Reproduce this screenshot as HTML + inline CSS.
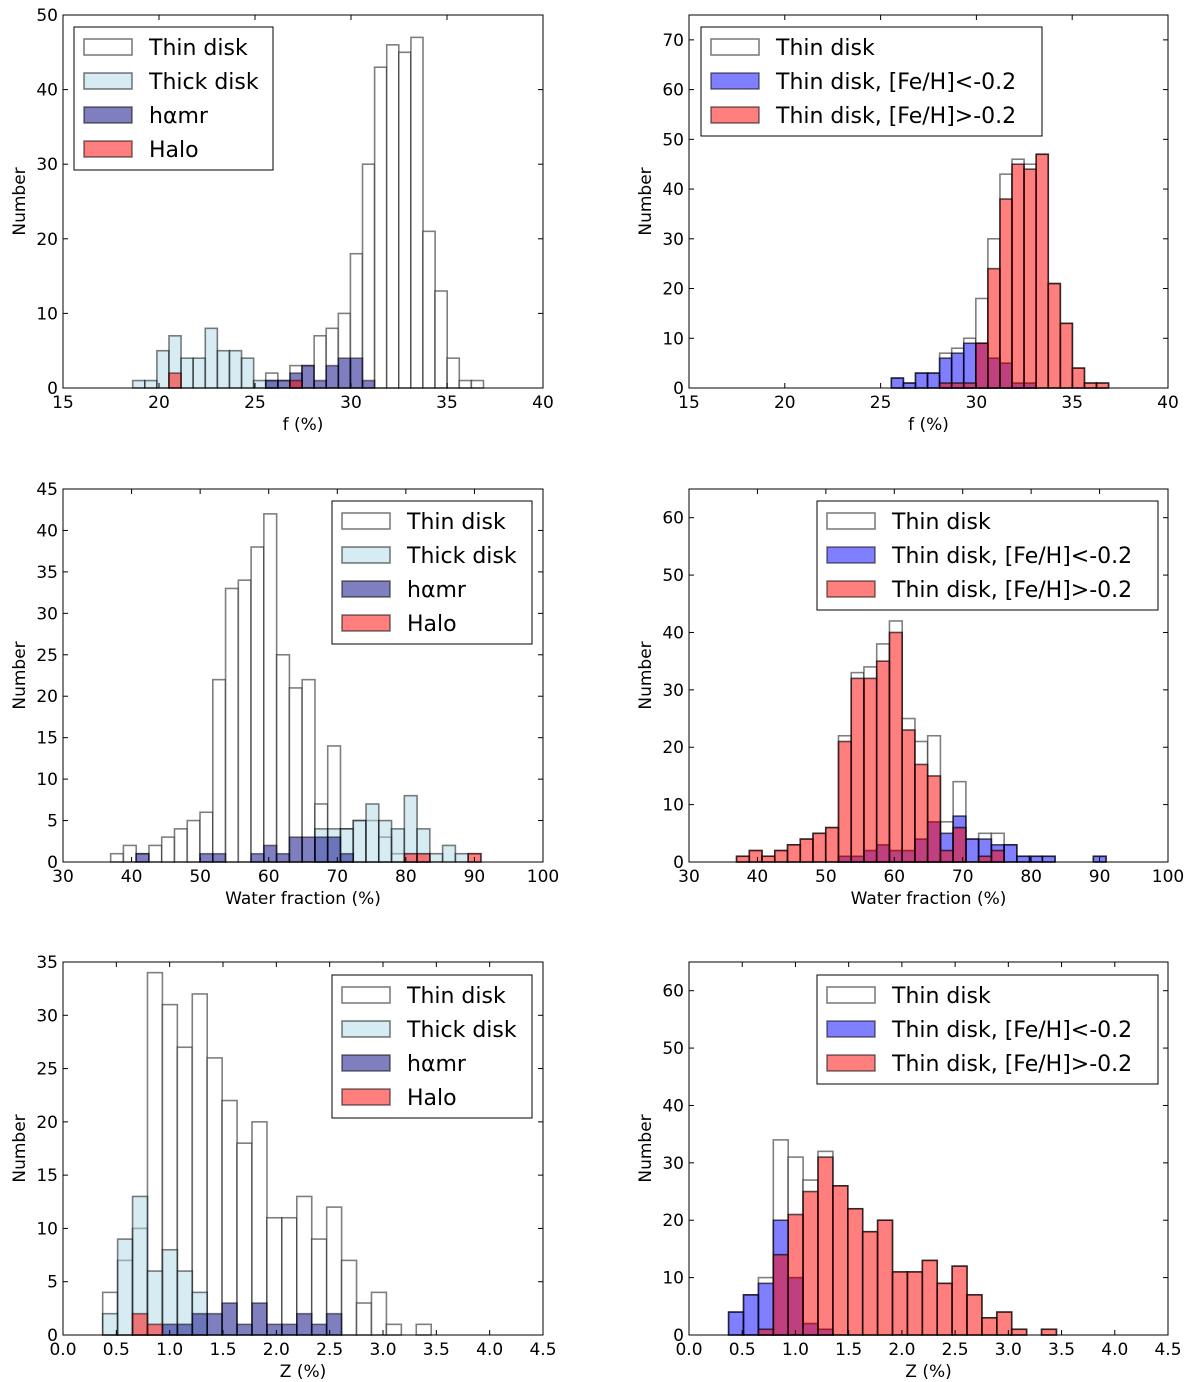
<!DOCTYPE html>
<html><head><meta charset="utf-8"><style>
html,body{margin:0;padding:0;background:#fff;}
svg{display:block;font-family:"DejaVu Sans","Liberation Sans",sans-serif;}
</style></head><body>
<svg id="fig" width="1200" height="1382" viewBox="0 0 1200 1382" xmlns="http://www.w3.org/2000/svg"></svg>
<script>
// ---- data ----
const fBinStart = 18.63, fBinWidth = 0.63;
const wBinStart = 36.95, wBinWidth = 1.862;
const zBinStart = 0.372, zBinWidth = 0.14;

const fThin  = [0,0,0,0,0,0,0,0,0,0,0,2,1,3,3,7,8,10,18,30,43,46,45,47,21,13,4,1,1];
const fThick = [1,1,5,7,4,4,8,5,5,4,1,1,0,0,0,0,0,0,0,0,0,0,0,0,0,0,0,0,0];
const fHamr  = [0,0,0,0,0,0,0,0,0,0,0,1,1,2,3,1,3,4,4,1,0,0,0,0,0,0,0,0,0];
const fHalo  = [0,0,0,2,0,0,0,0,0,0,0,0,0,1,0,0,0,0,0,0,0,0,0,0,0,0,0,0,0];
const fPoor  = [0,0,0,0,0,0,0,0,0,0,0,2,1,3,3,6,7,9,9,6,5,1,1,0,0,0,0,0,0];
const fRich  = [0,0,0,0,0,0,0,0,0,0,0,0,0,0,0,1,1,1,9,24,38,45,44,47,21,13,4,1,1];

const wThin  = [1,2,1,2,3,4,5,6,22,33,34,38,42,25,21,22,7,14,4,5,5,3,1,1,1,0,0,0,1];
const wThick = [0,0,0,0,0,0,0,0,0,0,0,0,0,0,0,0,4,4,4,5,7,5,4,8,4,1,2,1,0];
const wHamr  = [0,0,1,0,0,0,0,1,1,0,0,1,2,1,3,3,3,3,1,0,0,0,0,0,0,0,0,0,0];
const wHalo  = [0,0,0,0,0,0,0,0,0,0,0,0,0,0,0,0,0,0,0,0,0,0,0,1,1,0,0,0,1];
const wPoor  = [0,0,0,0,0,0,0,0,1,1,2,3,2,2,4,7,5,8,4,4,3,3,1,1,1,0,0,0,1];
const wRich  = [1,2,1,2,3,4,5,6,21,32,32,35,40,23,17,15,2,6,0,1,2,0,0,0,0,0,0,0,0];

const zThin  = [4,7,10,34,31,27,32,26,22,18,20,11,11,13,9,12,7,3,4,1,0,1,0,0,0,0,0,0,0];
const zThick = [2,9,13,6,8,6,4,0,0,0,0,0,0,0,0,0,0,0,0,0,0,0,0,0,0,0,0,0,0];
const zHamr  = [0,0,0,0,1,1,2,2,3,1,3,1,1,2,1,2,0,0,0,0,0,0,0,0,0,0,0,0,0];
const zHalo  = [0,0,2,1,0,0,0,0,0,0,0,0,0,0,0,0,0,0,0,0,0,0,0,0,0,0,0,0,0];
const zPoor  = [4,7,9,20,10,2,1,0,0,0,0,0,0,0,0,0,0,0,0,0,0,0,0,0,0,0,0,0,0];
const zRich  = [0,0,1,14,21,25,31,26,22,18,20,11,11,13,9,12,7,3,4,1,0,1,0,0,0,0,0,0,0];

const fTicks = [15,20,25,30,35,40];
const wTicks = [30,40,50,60,70,80,90,100];
const zTicks = ["0.0","0.5","1.0","1.5","2.0","2.5","3.0","3.5","4.0","4.5"];
const yTicks50 = [0,10,20,30,40,50];
const yTicks75 = [0,10,20,30,40,50,60,70];
const yTicks45 = [0,5,10,15,20,25,30,35,40,45];
const yTicks65 = [0,10,20,30,40,50,60];
const yTicks35 = [0,5,10,15,20,25,30,35];

const popLabels = ["Thin disk","Thick disk","h\u03B1mr","Halo"];
const metLabels = ["Thin disk","Thin disk, [Fe/H]<-0.2","Thin disk, [Fe/H]>-0.2"];

// ---- drawing ----
const NS = "http://www.w3.org/2000/svg";
const svg = document.getElementById("fig");
function mk(tag, attrs, parent){
  const e = document.createElementNS(NS, tag);
  for (const k in attrs) e.setAttribute(k, attrs[k]);
  (parent||svg).appendChild(e);
  return e;
}
const STY = {
  thin:{fill:"#ffffff",fo:1,stroke:"#000",so:0.5},
  thick:{fill:"#add8e6",fo:0.5,stroke:"#000",so:0.5},
  hamr:{fill:"#000080",fo:0.5,stroke:"#000",so:0.5},
  halo:{fill:"#ff0000",fo:0.5,stroke:"#000",so:0.5},
  poor:{fill:"#0000ff",fo:0.5,stroke:"#000",so:0.65},
  rich:{fill:"#ff0000",fo:0.5,stroke:"#000",so:0.65}
};

function panel(name, box, xdom, ydom, xticks, yticks, xlabel, start, width, series, legend){
  const g = mk("g", {});
  
  
  const sx = v => box.x0 + (v - xdom[0]) / (xdom[1]-xdom[0]) * (box.x1-box.x0);
  const sy = v => box.y1 - (v - ydom[0]) / (ydom[1]-ydom[0]) * (box.y1-box.y0);
  // bars
  series.forEach(s => {
    const sg = mk("g", {}, g);
    
    
    const st = STY[s.style];
    s.data.forEach((v,i) => {
      const xa = sx(start + i*width), xb = sx(start + (i+1)*width);
      const r = mk("rect", {x:xa, y:sy(v), width:xb-xa, height:sy(0)-sy(v),
        fill:st.fill, "fill-opacity":st.fo, stroke:st.stroke, "stroke-opacity":st.so, "stroke-width":1.6}, sg);
      
      
    });
  });
  // frame
  const fr = mk("rect", {x:box.x0, y:box.y0, width:box.x1-box.x0, height:box.y1-box.y0, fill:"none", stroke:"#000", "stroke-width":1}, g);
  
  
  // x ticks
  const xa = mk("g", {}, g);
  
  
  xticks.forEach(t => {
    const v = parseFloat(t), x = sx(v);
    mk("line", {x1:x, x2:x, y1:box.y1, y2:box.y1-5, stroke:"#000"}, xa);
    mk("line", {x1:x, x2:x, y1:box.y0, y2:box.y0+5, stroke:"#000"}, xa);
    const tx = mk("text", {x:x, y:box.y1+20, "text-anchor":"middle", "font-size":17}, xa);
    tx.textContent = t;
    
    
  });
  const xl = mk("text", {x:(box.x0+box.x1)/2, y:box.y1+42, "text-anchor":"middle", "font-size":17}, g);
  xl.textContent = xlabel;
  
  
  // y ticks
  const ya = mk("g", {}, g);
  
  
  yticks.forEach(t => {
    const y = sy(t);
    mk("line", {x1:box.x0, x2:box.x0+5, y1:y, y2:y, stroke:"#000"}, ya);
    mk("line", {x1:box.x1, x2:box.x1-5, y1:y, y2:y, stroke:"#000"}, ya);
    const tx = mk("text", {x:box.x0-5, y:y+6, "text-anchor":"end", "font-size":17}, ya);
    tx.textContent = t;
    
    
  });
  const yl = mk("text", {x:0, y:0, "text-anchor":"middle", "font-size":17,
    transform:"translate("+(box.x0-38)+","+((box.y0+box.y1)/2)+") rotate(-90)"}, g);
  yl.textContent = "Number";
  
  
  // legend
  const lg = mk("g", {}, g);
  
  
  mk("rect", {x:legend.x, y:legend.y, width:legend.w, height:legend.h, fill:"#fff", stroke:"#000", "stroke-width":1}, lg);
  legend.items.forEach((it,i) => {
    const cy = legend.y + 19 + i*34;
    const st = STY[it.style];
    const e = mk("g", {}, lg);
    
    
    mk("rect", {x:legend.x+10, y:cy-7, width:48, height:16, fill:st.fill, "fill-opacity":st.fo, stroke:"#000", "stroke-opacity":0.5, "stroke-width":1.6}, e);
    const tx = mk("text", {x:legend.x+75, y:cy+9, "font-size":22}, e);
    tx.textContent = it.label;
  });
}

const colL = {x0:63, x1:543}, colR = {x0:689, x1:1168};
const rows = [{y0:15,y1:388},{y0:489,y1:862},{y0:962,y1:1335}];
function B(c,r){return {x0:c.x0,x1:c.x1,y0:r.y0,y1:r.y1};}

panel("panel-f-populations", B(colL,rows[0]), [15,40], [0,50], fTicks, yTicks50, "f (%)", fBinStart, fBinWidth,
  [{name:"thin-disk",style:"thin",data:fThin},{name:"thick-disk",style:"thick",data:fThick},{name:"hamr",style:"hamr",data:fHamr},{name:"halo",style:"halo",data:fHalo}],
  {x:74,y:27,w:199,h:143,items:popLabels.map((l,i)=>({label:l,style:["thin","thick","hamr","halo"][i]}))});
panel("panel-f-metallicity", B(colR,rows[0]), [15,40], [0,75], fTicks, yTicks75, "f (%)", fBinStart, fBinWidth,
  [{name:"thin-disk",style:"thin",data:fThin},{name:"metal-poor",style:"poor",data:fPoor},{name:"metal-rich",style:"rich",data:fRich}],
  {x:701,y:27,w:341,h:109,items:metLabels.map((l,i)=>({label:l,style:["thin","poor","rich"][i]}))});
panel("panel-water-populations", B(colL,rows[1]), [30,100], [0,45], wTicks, yTicks45, "Water fraction (%)", wBinStart, wBinWidth,
  [{name:"thin-disk",style:"thin",data:wThin},{name:"thick-disk",style:"thick",data:wThick},{name:"hamr",style:"hamr",data:wHamr},{name:"halo",style:"halo",data:wHalo}],
  {x:332,y:501,w:200,h:143,items:popLabels.map((l,i)=>({label:l,style:["thin","thick","hamr","halo"][i]}))});
panel("panel-water-metallicity", B(colR,rows[1]), [30,100], [0,65], wTicks, yTicks65, "Water fraction (%)", wBinStart, wBinWidth,
  [{name:"thin-disk",style:"thin",data:wThin},{name:"metal-poor",style:"poor",data:wPoor},{name:"metal-rich",style:"rich",data:wRich}],
  {x:817,y:501,w:341,h:109,items:metLabels.map((l,i)=>({label:l,style:["thin","poor","rich"][i]}))});
panel("panel-z-populations", B(colL,rows[2]), [0,4.5], [0,35], zTicks, yTicks35, "Z (%)", zBinStart, zBinWidth,
  [{name:"thin-disk",style:"thin",data:zThin},{name:"thick-disk",style:"thick",data:zThick},{name:"hamr",style:"hamr",data:zHamr},{name:"halo",style:"halo",data:zHalo}],
  {x:332,y:975,w:200,h:143,items:popLabels.map((l,i)=>({label:l,style:["thin","thick","hamr","halo"][i]}))});
panel("panel-z-metallicity", B(colR,rows[2]), [0,4.5], [0,65], zTicks, yTicks65, "Z (%)", zBinStart, zBinWidth,
  [{name:"thin-disk",style:"thin",data:zThin},{name:"metal-poor",style:"poor",data:zPoor},{name:"metal-rich",style:"rich",data:zRich}],
  {x:817,y:975,w:341,h:109,items:metLabels.map((l,i)=>({label:l,style:["thin","poor","rich"][i]}))});
</script>
</body></html>
